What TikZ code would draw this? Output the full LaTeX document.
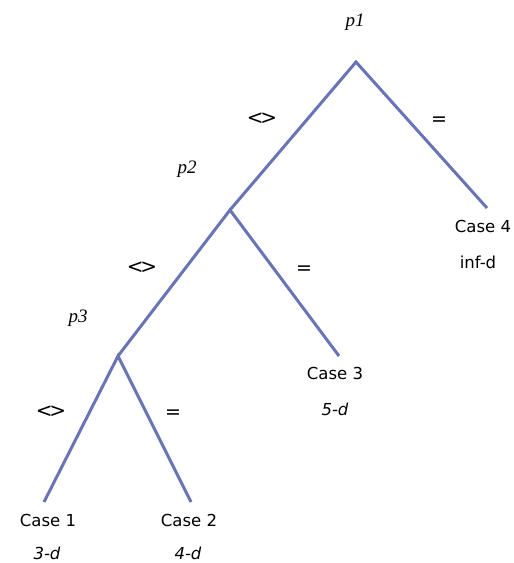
\documentclass[tikz,border=0pt]{standalone}
\usepackage{fontspec}
\setmainfont{Liberation Serif}
\newfontfamily\casefont{DejaVu Sans}
\usetikzlibrary{positioning}
\definecolor{edgeblue}{RGB}{104,116,182}
\newcommand{\notsame}{<\kern-3.5pt>}

\begin{document}
\begin{tikzpicture}[x=1pt, y=-1pt,
    every node/.style={font=\casefont\fontsize{16.5}{18}\selectfont, inner sep=0pt},
    branch/.style={edgeblue, line width=3pt},
    plabel/.style={font=\itshape\fontsize{19}{21}\selectfont},
    cmp/.style={font=\casefont\fontsize{20}{22}\selectfont},
    eqsign/.style={font=\casefont\fontsize{19}{21}\selectfont},
    cost/.style={font=\casefont\fontsize{16.5}{18}\selectfont\itshape}]
  \useasboundingbox (0,0) rectangle (514,563);
  % split points and leaf ends
  \coordinate (p1) at (356,62);
  \coordinate (p2) at (230,210);
  \coordinate (p3) at (118,356);
  \coordinate (c4) at (487,208);
  \coordinate (c3) at (339,356);
  \coordinate (c1) at (44,502);
  \coordinate (c2) at (191,502);
  % branches
  \draw[branch] (p2) -- (p1) -- (c4);
  \draw[branch] (p3) -- (p2) -- (c3);
  \draw[branch] (c1) -- (p3) -- (c2);
  % pivot labels
  \node[plabel] (lp1) at (355,22) {p1};
  \node[plabel] (lp2) at (187,169) {p2};
  \node[plabel] (lp3) at (78,318) {p3};
  % comparison labels
  \node[cmp] (ne1) at (262,119) {\notsame};
  \node[eqsign] (eq1) at (439,121) {=};
  \node[cmp] (ne2) at (142,268) {\notsame};
  \node[eqsign] (eq2) at (304,270) {=};
  \node[cmp] (ne3) at (51,412) {\notsame};
  \node[eqsign] (eq3) at (173,414) {=};
  % leaves
  \node (case4) at (483,226) {Case 4};
  \node (d4) at (478,262) {inf-d};
  \node (case3) at (335,373) {Case 3};
  \node[cost] (d3) at (335,409) {5-d};
  \node (case1) at (48,520) {Case 1};
  \node[cost] (d1) at (47,553) {3-d};
  \node (case2) at (189,520) {Case 2};
  \node[cost] (d2) at (188,553) {4-d};
\end{tikzpicture}
\end{document}
